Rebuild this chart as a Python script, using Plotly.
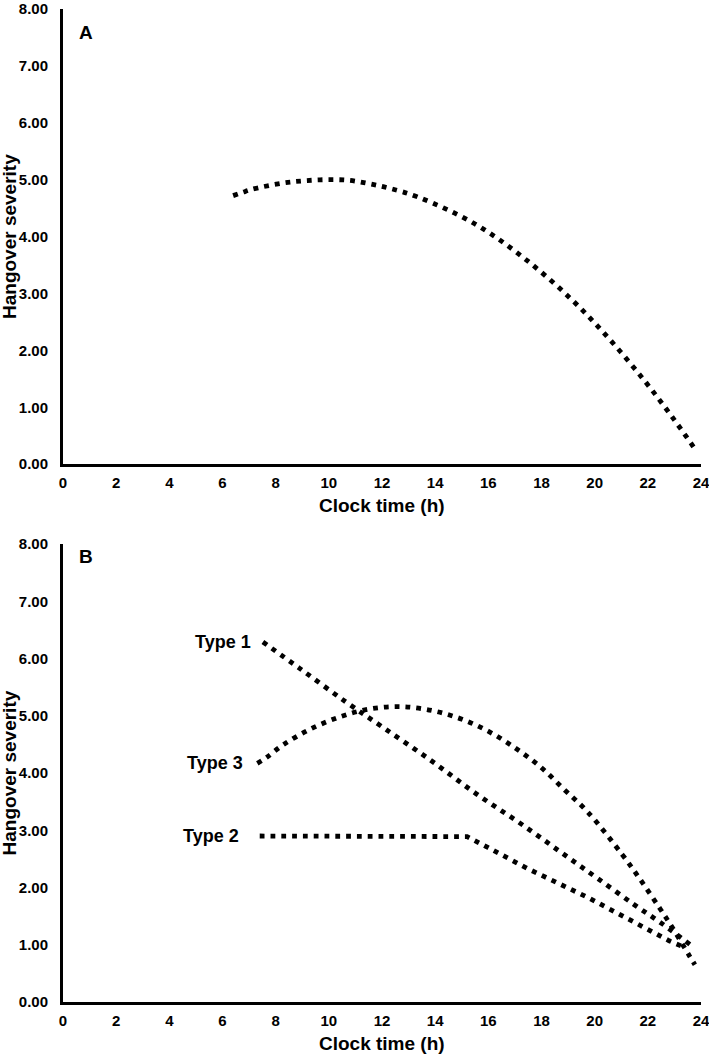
import plotly.graph_objects as go

# ---------------- data ----------------
hours_ticks = list(range(0, 25, 2))
severity_ticks = [0, 1, 2, 3, 4, 5, 6, 7, 8]

# Panel A: single hangover curve
a_time = [6.4, 6.77, 7.1, 8.25, 9.05, 9.89, 10.74, 11.52, 12.28, 13.38, 15.47,
          17.32, 19.12, 20.55, 21.87, 22.9, 23.83]
a_sev = [4.72, 4.78, 4.83, 4.94, 4.98, 5.00, 4.99, 4.93, 4.85, 4.69, 4.23,
         3.63, 2.90, 2.20, 1.47, 0.84, 0.23]

# Panel B: three hangover types
t1_time = [7.52, 8.9, 10.65, 12.03, 13.81, 15.54, 17.3, 19.05, 20.11, 21.49, 22.56, 23.6]
t1_sev = [6.29, 5.83, 5.24, 4.80, 4.23, 3.64, 3.09, 2.51, 2.16, 1.70, 1.36, 1.00]

t2_time = [7.4, 15.2, 15.98, 17.48, 19.77, 21.68, 22.8, 23.3]
t2_sev = [2.90, 2.89, 2.70, 2.33, 1.82, 1.34, 1.07, 0.97]

t3_time = [7.31, 7.65, 8.27, 9.27, 10.4, 11.53, 12.72, 13.91, 15.01, 16.04, 17.04,
           17.98, 18.86, 19.74, 21.03, 21.76, 22.46, 22.91, 23.56, 23.77]
t3_sev = [4.17, 4.27, 4.49, 4.76, 4.98, 5.12, 5.16, 5.09, 4.94, 4.72, 4.43,
          4.10, 3.71, 3.32, 2.58, 2.11, 1.63, 1.31, 0.81, 0.65]

type_names = ["Type 1", "Type 2", "Type 3"]
panel_letters = ["A", "B"]
x_title = "Clock time (h)"
y_title = "Hangover severity"

# ---------------- styling ----------------
FONT = "Arial, 'Liberation Sans', sans-serif"
DOT = dict(color="black", width=4.8, dash="4.8px,6px")

fig = go.Figure()

fig.add_trace(go.Scatter(x=a_time, y=a_sev, mode="lines", line=dict(**DOT, shape="spline"),
                         xaxis="x", yaxis="y", showlegend=False))
fig.add_trace(go.Scatter(x=t1_time, y=t1_sev, mode="lines", line=dict(**DOT, shape="spline"),
                         xaxis="x2", yaxis="y2", showlegend=False))
fig.add_trace(go.Scatter(x=t2_time, y=t2_sev, mode="lines", line=dict(**DOT, shape="linear"),
                         xaxis="x2", yaxis="y2", showlegend=False))
fig.add_trace(go.Scatter(x=t3_time, y=t3_sev, mode="lines", line=dict(**DOT, shape="spline"),
                         xaxis="x2", yaxis="y2", showlegend=False))

tickfont = dict(family=FONT, size=15, color="black", weight="bold")
xax = dict(range=[0, 24], tickvals=hours_ticks, showline=True, linewidth=3, linecolor="black",
           showgrid=False, zeroline=False, ticks="outside", ticklen=3,
           tickcolor="rgba(0,0,0,0)", tickfont=tickfont, automargin=False,
           ticklabeloverflow="allow")
yax = dict(range=[0, 8], tickvals=severity_ticks, tickformat=".2f", showline=True, linewidth=3,
           linecolor="black", showgrid=False, zeroline=False, ticks="outside", ticklen=9,
           tickcolor="rgba(0,0,0,0)", tickfont=tickfont, automargin=False,
           ticklabeloverflow="allow")

fig.update_layout(
    width=709, height=1054,
    margin=dict(l=63, r=8, t=9, b=52),
    paper_bgcolor="white", plot_bgcolor="white",
    xaxis=dict(xax, domain=[0, 1], anchor="y"),
    yaxis=dict(yax, domain=[0.5416, 1], anchor="x"),
    xaxis2=dict(xax, domain=[0, 1], anchor="y2"),
    yaxis2=dict(yax, domain=[0, 0.4611], anchor="x2"),
)

ann = []
title_font = dict(family=FONT, size=19, color="black", weight="bold")
for i, (xr, yr, ly) in enumerate([("x", "y", 0.948), ("x2", "y2", 0.972)]):
    ann.append(dict(text=panel_letters[i], xref=f"{xr} domain", yref=f"{yr} domain",
                    x=0.0215, y=ly, xanchor="left", yanchor="middle", showarrow=False,
                    font=title_font))
    ann.append(dict(text=x_title, xref=f"{xr} domain", yref=f"{yr} domain",
                    x=0.5, y=-0.091, xanchor="center", yanchor="middle", showarrow=False,
                    font=title_font))
    ann.append(dict(text=y_title, xref=f"{xr} domain", yref=f"{yr} domain",
                    x=-0.084, y=0.5, xanchor="center", yanchor="middle", showarrow=False,
                    textangle=-90, font=title_font))

label_font = dict(family=FONT, size=18, color="black", weight="bold")
for name, tx, ty, gap in [(type_names[0], t1_time, t1_sev, 10),
                          (type_names[2], t3_time, t3_sev, 12),
                          (type_names[1], t2_time, t2_sev, 19)]:
    ann.append(dict(text=name, xref="x2", yref="y2", x=tx[0], y=ty[0], xshift=-gap,
                    xanchor="right", yanchor="middle", showarrow=False, font=label_font))

fig.update_layout(annotations=ann)
fig.write_html("out.html", config={"displayModeBar": False},
               post_script="document.body.style.margin='0';document.body.style.overflow='hidden';")
